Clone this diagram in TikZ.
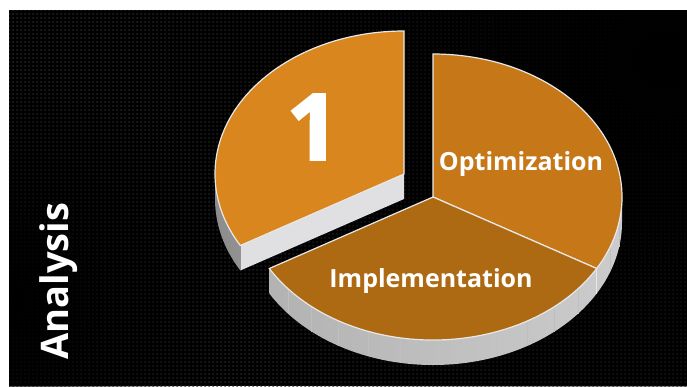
\documentclass[tikz,border=0pt]{standalone}
\usepackage{fontspec}
\setmainfont{Open Sans}
\newfontfamily\onefont[BoldFeatures={FakeBold=2.5}]{Open Sans}
\usetikzlibrary{patterns.meta}
\usetikzlibrary{fadings}

\definecolor{sliceone}{RGB}{218,134,30}
\definecolor{slicetwo}{RGB}{198,120,25}
\definecolor{slicethree}{RGB}{174,106,18}
\definecolor{rim}{RGB}{232,232,232}
\definecolor{cutface}{RGB}{224,224,226}
\tikzfading[name=cornerfade, inner color=transparent!0, outer color=transparent!100]
\tikzdeclarepattern{
  name=carbon,
  type=uncolored,
  bounding box={(0,0) and (4pt,4pt)},
  tile size={(4pt,4pt)},
  code={
    \pgfpathrectangle{\pgfpoint{0.5pt}{0.5pt}}{\pgfpoint{2pt}{1.6pt}}
    \pgfusepath{fill}
  }
}

\begin{document}
\begin{tikzpicture}[x=1pt,y=1pt]
\def\rx{189}
\def\ry{143}
\def\h{25}

\useasboundingbox (0,0) rectangle (687,-386);
% 白色底和黑色碳纤维背景
\fill [white] (0,0) rectangle (687,-386);
\fill [black] (9,-10) rectangle (687,-386);
\fill [pattern=carbon, pattern color=white!17!black] (9,-10) rectangle (687,-386);
% 右上角和左边变暗
\begin{scope}
\clip (9,-10) rectangle (687,-386);
\fill [black, path fading=cornerfade] (660,-60) circle(520);
\fill [black, path fading=cornerfade] (10,-300) circle(220);
\end{scope}

\coordinate (E) at (404,-174);
\coordinate (C) at (433,-197);

% 拉出的一块: 外侧面
\fill [left color=white!55!black, right color=white!70!black]
  (E) ++(180:{\rx} and {\ry}) arc[start angle=180, end angle=210, x radius=\rx, y radius=\ry]
  -- ++(0,-\h) arc[start angle=210, end angle=180, x radius=\rx, y radius=\ry] -- cycle;
% 拉出的一块: 切面
\fill [cutface] (E) -- ++(0,-\h) -- ++(210:{\rx} and {\ry}) -- ++(0,\h) -- cycle;
% 拉出的一块: 顶面
\fill [sliceone, draw=rim, line width=1.2pt] (E) -- ++(90:{\rx} and {\ry})
  arc[start angle=90, end angle=210, x radius=\rx, y radius=\ry] -- cycle;

% 大饼的侧面
\fill [left color=white!70!black, middle color=white!60!black, right color=white!80!black]
  (C) ++(-150:{\rx} and {\ry}) arc[start angle=-150, end angle=0, x radius=\rx, y radius=\ry]
  -- ++(0,-\h) arc[start angle=0, end angle=-150, x radius=\rx, y radius=\ry] -- cycle;
\foreach \a in {-140,-130,...,-10}
  \draw [white!75!black, line width=0.5pt] (C) ++(\a:{\rx} and {\ry}) -- ++(0,-\h);
\draw [rim, line width=0.8pt] (C) ++(-30:{\rx} and {\ry}) -- ++(0,-\h);

% 右边一块
\fill [slicetwo, draw=rim, line width=1.2pt] (C) -- ++(90:{\rx} and {\ry})
  arc[start angle=90, end angle=-30, x radius=\rx, y radius=\ry] -- cycle;
% 下边一块
\fill [slicethree, draw=rim, line width=1.2pt] (C) -- ++(-30:{\rx} and {\ry})
  arc[start angle=-30, end angle=-150, x radius=\rx, y radius=\ry] -- cycle;

% 文字
\node [white, font=\onefont\bfseries\fontsize{92}{92}\selectfont] (one) at (313,-127) {1};
\node [white, font=\bfseries\fontsize{25}{25}\selectfont] (optimization) at (521,-164) {Optimization};
\node [white, font=\bfseries\fontsize{25}{25}\selectfont] (implementation) at (431,-281) {Implementation};
\node [white, rotate=90, font=\bfseries\fontsize{38}{38}\selectfont] (analysis) at (59,-281) {Analysis};

\end{tikzpicture}
\end{document}
